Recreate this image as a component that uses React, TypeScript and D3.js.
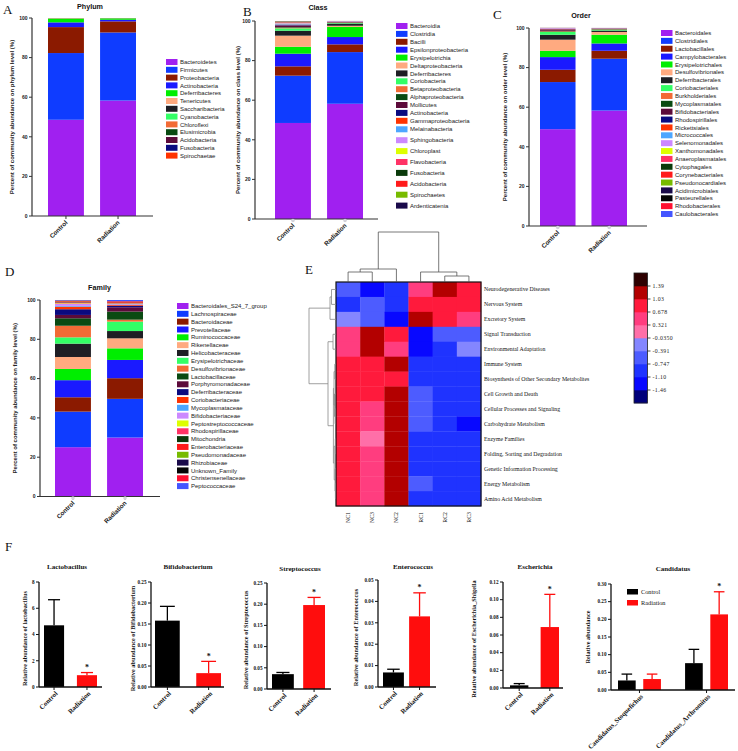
import React from "react";
import * as d3 from "d3";

const SANS = "'Liberation Sans', Arial, Helvetica, sans-serif";
const SERIF = "'Liberation Serif', 'Times New Roman', Times, serif";

const groups = ["Control", "Radiation"];

const palette = [
  "#a020f0", "#0f3cff", "#8b1a00", "#1a1aff", "#00ee00", "#ffaa80",
  "#1e1e24", "#33ff66", "#f26b35", "#0a4a12", "#5c0a3a", "#0a0a80",
  "#ff3300", "#4da6ff", "#cc88ff", "#ddff00", "#ff3366", "#0a3a0a",
  "#ff1a1a", "#77bb00", "#1a0a4a", "#050505", "#ff1030", "#4455ff",
];
const phylumPalette = [
  "#a020f0", "#0f3cff", "#8b1a00", "#1a1aff", "#00ee00", "#ffaa80",
  "#1e1e24", "#33ff66", "#f26b35", "#0a4a12", "#5c0a3a", "#0a0a80", "#ff3300",
];

// ---- Phylum ----
const phylumNames = ["Bacteroidetes", "Firmicutes", "Proteobacteria", "Actinobacteria", "Deferribacteres", "Tenericutes", "Saccharibacteria", "Cyanobacteria", "Chloroflexi", "Elusimicrobia", "Acidobacteria", "Fusobacteria", "Spirochaetae"];
const phylumControl = [48.6, 33.7, 13.1, 2.4, 1.9, 0.2, 0.05, 0.02, 0.01, 0.01, 0.005, 0.005, 0.0];
const phylumRadiation = [58.3, 34.4, 5.6, 0.8, 0.7, 0.1, 0.05, 0.02, 0.01, 0.01, 0.005, 0.005, 0.0];

// ---- Class ----
const classNames = ["Bacteroidia", "Clostridia", "Bacilli", "Epsilonproteobacteria", "Erysipelotrichia", "Deltaproteobacteria", "Deferribacteres", "Coriobacteria", "Betaproteobacteria", "Alphaproteobacteria", "Mollicutes", "Actinobacteria", "Gammaproteobacteria", "Melainabacteria", "Sphingobacteria", "Chloroplast", "Flavobacteria", "Fusobacteria", "Acidobacteria", "Spirochaetes", "Ardenticatenia"];
const classControl = [48.5, 23.9, 4.7, 6.4, 3.5, 5.6, 2.5, 1.2, 0.3, 0.3, 0.7, 0.3, 0.3, 0.3, 0.4, 0.2, 0.3, 0.2, 0.1, 0.1, 0.1];
const classRadiation = [58.2, 26.1, 3.9, 3.7, 5.1, 0.6, 1.1, 0.3, 0.2, 0.1, 0.2, 0.1, 0.1, 0.05, 0.2, 0.02, 0.02, 0.01, 0.01, 0.01, 0.01];

// ---- Order ----
const orderNames = ["Bacteroidales", "Clostridiales", "Lactobacillales", "Campylobacterales", "Erysipelotrichales", "Desulfovibrionales", "Deferribacterales", "Coriobacteriales", "Burkholderiales", "Mycoplasmatales", "Bifidobacteriales", "Rhodospirillales", "Rickettsiales", "Micrococcales", "Selenomonadales", "Xanthomonadales", "Anaeroplasmatales", "Cytophagales", "Corynebacteriales", "Pseudonocardiales", "Acidimicrobiales", "Pasteurellales", "Rhodobacterales", "Caulobacterales"];
const orderControl = [48.9, 23.8, 6.2, 6.4, 3.2, 5.6, 2.5, 1.4, 0.3, 0.3, 0.4, 0.3, 0.2, 0.1, 0.3, 0.02, 0.05, 0.02, 0.02, 0.02, 0.02, 0.02, 0.02, 0.02];
const orderRadiation = [58.3, 26.2, 4.0, 3.7, 4.4, 1.4, 0.7, 0.4, 0.2, 0.2, 0.1, 0.1, 0.1, 0.05, 0.1, 0.01, 0.01, 0.01, 0.01, 0.01, 0.01, 0.01, 0.01, 0.01];

// ---- Family ----
const familyNames = ["Bacteroidales_S24_7_group", "Lachnospiraceae", "Bacteroidaceae", "Prevotellaceae", "Ruminococcaceae", "Rikenellaceae", "Helicobacteraceae", "Erysipelotrichaceae", "Desulfovibrionaceae", "Lactobacillaceae", "Porphyromonadaceae", "Deferribacteraceae", "Coriobacteriaceae", "Mycoplasmataceae", "Bifidobacteriaceae", "Peptostreptococcaceae", "Rhodospirillaceae", "Mitochondria", "Enterobacteriaceae", "Pseudomonadaceae", "Rhizobiaceae", "Unknown_Family", "Christensenellaceae", "Peptococcaceae"];
const familyControl = [25.1, 18.1, 7.3, 8.7, 5.7, 6.1, 6.8, 3.2, 5.9, 3.8, 1.7, 2.9, 1.3, 0.4, 1.0, 0.3, 0.5, 0.2, 0.4, 0.1, 0.1, 0.1, 0.1, 0.2];
const familyRadiation = [30.0, 19.7, 10.5, 9.3, 5.9, 5.1, 3.7, 4.8, 1.0, 4.1, 2.2, 0.8, 0.5, 0.2, 0.3, 0.1, 0.1, 0.1, 0.5, 0.05, 0.1, 0.1, 0.3, 0.55];

// ---- Heatmap ----
const heatRows = ["Neurodegenerative Diseases", "Nervous System", "Excretory System", "Signal Transduction", "Environmental Adaptation", "Immune System", "Biosynthesis of Other Secondary Metabolites", "Cell Growth and Death", "Cellular Processes and Signaling", "Carbohydrate Metabolism", "Enzyme Families", "Folding, Sorting and Degradation", "Genetic Information Processing", "Energy Metabolism", "Amino Acid Metabolism"];
const heatCols = ["NC1", "NC3", "NC2", "RC1", "RC2", "RC3"];
const heatValues = [
  [-0.55, -1.3, -0.9, 0.5, 1.2, 0.85],
  [-0.9, -0.55, -0.9, 0.85, 0.85, 0.85],
  [-0.2, -0.55, -1.3, 1.2, 0.85, 0.5],
  [0.5, 1.2, 0.85, -1.3, -0.55, -0.55],
  [0.5, 1.2, 0.5, -1.3, -0.9, -0.2],
  [0.85, 0.85, 1.2, -0.9, -0.9, -0.9],
  [0.85, 0.85, 0.85, -0.9, -0.9, -0.9],
  [0.85, 0.85, 1.2, -0.55, -0.9, -0.9],
  [0.85, 0.5, 1.2, -0.55, -0.9, -0.9],
  [0.85, 0.5, 1.2, -0.55, -0.9, -1.3],
  [0.85, 0.15, 1.2, -0.9, -0.9, -0.9],
  [0.85, 0.5, 1.2, -0.9, -0.9, -0.9],
  [0.85, 0.5, 1.2, -0.9, -0.9, -0.9],
  [0.85, 0.5, 1.2, -0.55, -0.9, -0.9],
  [0.85, 0.5, 1.2, -0.9, -0.9, -0.9],
];
const heatBreaks = [-1.46, -1.10, -0.747, -0.391, -0.0350, 0.321, 0.678, 1.03, 1.39];
const heatBreakLabels = ["-1.46", "-1.10", "-0.747", "-0.391", "-0.0350", "0.321", "0.678", "1.03", "1.39"];
const heatColors = ["#00007a", "#0808ff", "#1f33ff", "#4d5cff", "#8486ff", "#ff6fa8", "#ff3d7f", "#ff1a3c", "#b30000", "#2e0000"];

type TNode = { h?: number; leaf?: number; children?: TNode[] };
const colTree: TNode = {
  h: 50, children: [
    { h: 13, children: [{ h: 10, children: [{ leaf: 0 }, { leaf: 1 }] }, { leaf: 2 }] },
    { h: 10, children: [{ leaf: 3 }, { h: 6, children: [{ leaf: 4 }, { leaf: 5 }] }] },
  ],
};
const rowTree: TNode = {
  h: 27, children: [
    { h: 6, children: [{ h: 4.5, children: [{ leaf: 0 }, { leaf: 1 }] }, { leaf: 2 }] },
    {
      h: 8, children: [
        { h: 3, children: [{ leaf: 3 }, { leaf: 4 }] },
        {
          h: 2.6, children: [
            { h: 2.0, children: [{ h: 1.2, children: [{ leaf: 5 }, { leaf: 6 }] }, { h: 1.5, children: [{ leaf: 7 }, { h: 0.9, children: [{ leaf: 8 }, { leaf: 9 }] }] }] },
            { h: 1.8, children: [{ h: 0.7, children: [{ leaf: 10 }, { leaf: 11 }] }, { h: 1.0, children: [{ leaf: 12 }, { h: 0.6, children: [{ leaf: 13 }, { leaf: 14 }] }] }] },
          ],
        },
      ],
    },
  ],
};

// ---- Panel F ----
const lactoMeans = [4.7, 0.9];
const lactoErrs = [1.95, 0.2];
const bifidoMeans = [0.158, 0.033];
const bifidoErrs = [0.034, 0.028];
const streptoMeans = [0.035, 0.198];
const streptoErrs = [0.004, 0.018];
const enteroMeans = [0.0068, 0.033];
const enteroErrs = [0.0015, 0.011];
const escheMeans = [0.003, 0.069];
const escheErrs = [0.002, 0.037];
const candCategories = ["Candidatus_Stoquefichus", "Candidatus_Arthromitus"];
const candControl = [0.027, 0.076];
const candControlErr = [0.018, 0.039];
const candRadiation = [0.031, 0.214];
const candRadiationErr = [0.014, 0.064];

const barColors = ["#000000", "#ff0d0d"];

// ================= Components =================

function StackedPanel({ names, colors, control, radiation, title, ylabel, L }: any) {
  const y = d3.scaleLinear().domain([0, 100]).range([L.yBottom, L.yTop]);
  const x = d3.scaleBand().domain(groups).range([L.x0, L.x1]).paddingInner(0.31);
  const table = groups.map((g, gi) => {
    const row: any = { group: g };
    names.forEach((n: string, i: number) => (row[n] = (gi === 0 ? control : radiation)[i]));
    return row;
  });
  const series = d3.stack().keys(names)(table);
  const ticks = y.ticks(5);
  const midY = (L.yTop + L.yBottom) / 2;
  return (
    <g fontFamily={SANS}>
      <text x={L.titleX} y={L.titleY} textAnchor="middle" fontSize={7.2} fontWeight="bold" fill="#111">{title}</text>
      {series.map((s, si) =>
        s.map((d, gi) => (
          <rect key={si + "-" + gi} x={x(groups[gi])} width={x.bandwidth()} y={y(d[1])}
            height={Math.max(0, y(d[0]) - y(d[1]))} fill={colors[si]} />
        ))
      )}
      <line x1={L.axisX} x2={L.axisX} y1={L.yTop} y2={L.yBottom} stroke="#333" strokeWidth={1.2} />
      <line x1={L.axisX} x2={L.axisEnd} y1={L.yBottom} y2={L.yBottom} stroke="#333" strokeWidth={1.2} />
      {ticks.map((t) => (
        <g key={t}>
          <line x1={L.axisX - 3} x2={L.axisX} y1={y(t)} y2={y(t)} stroke="#333" strokeWidth={1} />
          <text x={L.axisX - 4.5} y={y(t) + 1.8} textAnchor="end" fontSize={5} fontWeight="bold" fill="#222">{t}</text>
        </g>
      ))}
      {groups.map((g) => {
        const cx = (x(g) as number) + x.bandwidth() / 2;
        return (
          <g key={g}>
            <line x1={cx} x2={cx} y1={L.yBottom} y2={L.yBottom + 3} stroke="#333" strokeWidth={1} />
            {L.dots && <circle cx={cx} cy={L.yBottom + 1.5} r={1.8} fill="#d4d4dc" />}
            <text transform={`translate(${cx + 2},${L.yBottom + 7}) rotate(-45)`} textAnchor="end" fontSize={6.3} fontWeight="bold" fill="#222">{g}</text>
          </g>
        );
      })}
      <text transform={`translate(${L.ylabelX},${midY}) rotate(-90)`} textAnchor="middle" fontSize={6} fontWeight="bold" fill="#222">{ylabel}</text>
      {names.map((n: string, i: number) => (
        <g key={n}>
          <rect x={L.legendX} y={L.legendY(i) - 3} width={11.5} height={6} fill={colors[i]} />
          <text x={L.legendX + 14} y={L.legendY(i) + 2.1} fontSize={6} fill="#1a1a1a">{n}</text>
        </g>
      ))}
    </g>
  );
}

function treeSegments(root: TNode) {
  const segs: { p1: number; h1: number; p2: number; h2: number }[] = [];
  function rec(n: TNode): { p: number; h: number } {
    if (n.leaf !== undefined) return { p: n.leaf, h: 0 };
    const cs = n.children!.map(rec);
    const ps = cs.map((c) => c.p);
    const p = (ps[0] + ps[ps.length - 1]) / 2;
    segs.push({ p1: ps[0], h1: n.h!, p2: ps[ps.length - 1], h2: n.h! });
    cs.forEach((c) => segs.push({ p1: c.p, h1: c.h, p2: c.p, h2: n.h! }));
    return { p, h: n.h! };
  }
  rec(root);
  return segs;
}

function Heatmap() {
  const x0 = 336, x1 = 481, y0 = 282, y1 = 506;
  const x = d3.scaleBand().domain(heatCols).range([x0, x1]);
  const y = d3.scaleBand().domain(heatRows).range([y0, y1]);
  const color = d3.scaleThreshold<number, string>().domain(heatBreaks).range(heatColors);
  const colPos = d3.scaleLinear().domain([0, heatCols.length - 1]).range([x0 + x.bandwidth() / 2, x1 - x.bandwidth() / 2]);
  const rowPos = d3.scaleLinear().domain([0, heatRows.length - 1]).range([y0 + y.bandwidth() / 2, y1 - y.bandwidth() / 2]);
  const colH = d3.scaleLinear().domain([0, 50]).range([y0, 232]);
  const rowH = d3.scaleLinear().domain([0, 27]).range([x0, 309]);
  const colSegs = treeSegments(colTree);
  const rowSegs = treeSegments(rowTree);
  const keyX = 634, keyW = 13.5, keyTop = 273, keyBottom = 403;
  const keyScale = d3.scaleBand().domain(d3.range(heatColors.length).map(String)).range([keyBottom, keyTop]);
  return (
    <g fontFamily={SERIF}>
      {heatValues.map((row, ri) =>
        row.map((v, ci) => (
          <rect key={ri + "-" + ci} x={x(heatCols[ci])} y={y(heatRows[ri])} width={x.bandwidth() + 0.3} height={y.bandwidth() + 0.3} fill={color(v)} />
        ))
      )}
      <rect x={x0} y={y0} width={x1 - x0} height={y1 - y0} fill="none" stroke="#111" strokeWidth={1.2} />
      {colSegs.map((s, i) => (
        <line key={i} x1={colPos(s.p1)} x2={colPos(s.p2)} y1={colH(s.h1)} y2={colH(s.h2)} stroke="#555" strokeWidth={0.8} />
      ))}
      {rowSegs.map((s, i) => (
        <line key={i} y1={rowPos(s.p1)} y2={rowPos(s.p2)} x1={rowH(s.h1)} x2={rowH(s.h2)} stroke="#888" strokeWidth={0.8} />
      ))}
      {heatRows.map((r) => (
        <text key={r} x={x1 + 3} y={(y(r) as number) + y.bandwidth() / 2 + 2} fontSize={5.8} fill="#111">{r}</text>
      ))}
      {heatCols.map((c) => (
        <text key={c} transform={`translate(${(x(c) as number) + x.bandwidth() / 2 + 2},${y1 + 6}) rotate(-90)`} textAnchor="end" fontSize={5.8} fill="#111">{c}</text>
      ))}
      {heatColors.map((c, i) => (
        <rect key={c} x={keyX} y={keyScale(String(i))} width={keyW} height={keyScale.bandwidth() + 0.3} fill={c} />
      ))}
      <rect x={keyX} y={keyTop} width={keyW} height={keyBottom - keyTop} fill="none" stroke="#222" strokeWidth={0.8} />
      {heatBreakLabels.map((lab, i) => {
        const yy = keyScale(String(i)) as number;
        return (
          <g key={lab}>
            <line x1={keyX + keyW} x2={keyX + keyW + 3} y1={yy} y2={yy} stroke="#222" strokeWidth={0.8} />
            <text x={keyX + keyW + 5} y={yy + 2} fontSize={5.8} fill="#222" letterSpacing={0.4}>{lab}</text>
          </g>
        );
      })}
    </g>
  );
}

function SimpleBar({ L, title, ylabel, means, errs, nticks, fmt, star }: any) {
  const y = d3.scaleLinear().domain([0, L.max]).range([L.yBottom, L.yTop]);
  const x = d3.scaleBand().domain(groups).range([L.x0, L.x1]).paddingInner(L.pad);
  const ticks = y.ticks(nticks);
  const bw = x.bandwidth();
  return (
    <g fontFamily={SERIF}>
      <text x={L.titleX} y={L.titleY} textAnchor="middle" fontSize={7} fontWeight="bold" fill="#111">{title}</text>
      {groups.map((g, i) => {
        const cx = (x(g) as number) + bw / 2;
        const top = y(means[i] + errs[i]);
        return (
          <g key={g}>
            <line x1={cx} x2={cx} y1={y(means[i])} y2={top} stroke={barColors[i]} strokeWidth={1.3} />
            <line x1={cx - bw * 0.3} x2={cx + bw * 0.3} y1={top} y2={top} stroke={barColors[i]} strokeWidth={1.3} />
            <rect x={x(g)} width={bw} y={y(means[i])} height={L.yBottom - y(means[i])} fill={barColors[i]} />
            {star && i === 1 && <text x={cx} y={top - 2.5} textAnchor="middle" fontSize={8} fontWeight="bold" fill="#111">*</text>}
            <line x1={cx} x2={cx} y1={L.yBottom} y2={L.yBottom + 3} stroke="#111" strokeWidth={1} />
            <text transform={`translate(${cx + 4},${L.yBottom + 7}) rotate(-45)`} textAnchor="end" fontSize={6.8} fontWeight="bold" fill="#111">{g}</text>
          </g>
        );
      })}
      <line x1={L.axisX} x2={L.axisX} y1={L.yTop} y2={L.yBottom} stroke="#111" strokeWidth={1.3} />
      <line x1={L.axisX} x2={L.axisEnd} y1={L.yBottom} y2={L.yBottom} stroke="#111" strokeWidth={1.3} />
      {ticks.map((t) => (
        <g key={t}>
          <line x1={L.axisX - 3} x2={L.axisX} y1={y(t)} y2={y(t)} stroke="#111" strokeWidth={1} />
          <text x={L.axisX - 4.5} y={y(t) + 1.8} textAnchor="end" fontSize={5.2} fontWeight="bold" fill="#111">{fmt(t)}</text>
        </g>
      ))}
      <text transform={`translate(${L.ylabelX},${(L.yTop + L.yBottom) / 2 + 4}) rotate(-90)`} textAnchor="middle" fontSize={6.3} fontWeight="bold" fill="#111">{ylabel}</text>
    </g>
  );
}

function GroupedBar({ L }: any) {
  const y = d3.scaleLinear().domain([0, L.max]).range([L.yBottom, L.yTop]);
  const xo = d3.scaleBand().domain(candCategories).range([L.x0, L.x1]).paddingInner(0.36);
  const xi = d3.scaleBand().domain(groups).range([0, xo.bandwidth()]).paddingInner(0.3);
  const bw = xi.bandwidth();
  const ticks = y.ticks(6);
  const fmt = d3.format(".2f");
  const seriesMeans = [candControl, candRadiation];
  const seriesErrs = [candControlErr, candRadiationErr];
  return (
    <g fontFamily={SERIF}>
      <text x={L.titleX} y={L.titleY} textAnchor="middle" fontSize={7} fontWeight="bold" fill="#111">Candidatus</text>
      {candCategories.map((c, ci) => {
        const gx = xo(c) as number;
        const gc = gx + xo.bandwidth() / 2;
        return (
          <g key={c}>
            {groups.map((g, si) => {
              const bx = gx + (xi(g) as number);
              const cx = bx + bw / 2;
              const m = seriesMeans[si][ci];
              const top = y(m + seriesErrs[si][ci]);
              return (
                <g key={g}>
                  <line x1={cx} x2={cx} y1={y(m)} y2={top} stroke={barColors[si]} strokeWidth={1.3} />
                  <line x1={cx - bw * 0.3} x2={cx + bw * 0.3} y1={top} y2={top} stroke={barColors[si]} strokeWidth={1.3} />
                  <rect x={bx} width={bw} y={y(m)} height={L.yBottom - y(m)} fill={barColors[si]} />
                  {ci === 1 && si === 1 && <text x={cx} y={top - 2.5} textAnchor="middle" fontSize={8} fontWeight="bold" fill="#111">*</text>}
                </g>
              );
            })}
            <line x1={gc} x2={gc} y1={L.yBottom} y2={L.yBottom + 3} stroke="#111" strokeWidth={1} />
            <text transform={`translate(${gc + 4},${L.yBottom + 7}) rotate(-45)`} textAnchor="end" fontSize={6.8} fontWeight="bold" fill="#111">{c}</text>
          </g>
        );
      })}
      <line x1={L.axisX} x2={L.axisX} y1={L.yTop} y2={L.yBottom} stroke="#111" strokeWidth={1.3} />
      <line x1={L.axisX} x2={L.axisEnd} y1={L.yBottom} y2={L.yBottom} stroke="#111" strokeWidth={1.3} />
      {ticks.map((t) => (
        <g key={t}>
          <line x1={L.axisX - 3} x2={L.axisX} y1={y(t)} y2={y(t)} stroke="#111" strokeWidth={1} />
          <text x={L.axisX - 4.5} y={y(t) + 1.8} textAnchor="end" fontSize={5.2} fontWeight="bold" fill="#111">{fmt(t)}</text>
        </g>
      ))}
      <text transform={`translate(${L.ylabelX},${(L.yTop + L.yBottom) / 2}) rotate(-90)`} textAnchor="middle" fontSize={6.3} fontWeight="bold" fill="#111">Relative abundance</text>
      {groups.map((g, si) => (
        <g key={g}>
          <rect x={627} y={589 + si * 11} width={11} height={5.5} fill={barColors[si]} />
          <text x={641} y={594 + si * 11} fontSize={6.3} fill="#111">{g}</text>
        </g>
      ))}
    </g>
  );
}

export default function App() {
  const LA = { axisX: 32, yTop: 18, yBottom: 216, x0: 48, x1: 136, axisEnd: 153, titleX: 90, titleY: 9, ylabelX: 14, legendX: 166, legendY: (i: number) => 62 + 7.8 * i, dots: false };
  const LB = { axisX: 255, yTop: 21, yBottom: 219, x0: 275, x1: 363, axisEnd: 378, titleX: 318, titleY: 10, ylabelX: 240, legendX: 396, legendY: (i: number) => (i <= 12 ? 26 + 7.9 * i : 129.3 + (i - 13) * 10.9), dots: true };
  const LC = { axisX: 529, yTop: 28, yBottom: 226, x0: 540, x1: 627, axisEnd: 647, titleX: 581, titleY: 17.5, ylabelX: 507, legendX: 661, legendY: (i: number) => 33 + 7.87 * i, dots: true };
  const LD = { axisX: 40, yTop: 300, yBottom: 496.5, x0: 55, x1: 143, axisEnd: 160, titleX: 99.5, titleY: 290, ylabelX: 17, legendX: 177, legendY: (i: number) => 306 + 7.83 * i, dots: true };

  const f2 = d3.format(".2f");
  const fd = d3.format("d");
  const F1 = { axisX: 39, yTop: 582, yBottom: 687, x0: 44, x1: 97, pad: 0.39, axisEnd: 102, titleX: 67, titleY: 569, ylabelX: 27, max: 8 };
  const F2 = { axisX: 151, yTop: 582, yBottom: 687, x0: 155, x1: 221, pad: 0.4, axisEnd: 224, titleX: 188, titleY: 569, ylabelX: 134.5, max: 0.25 };
  const F3 = { axisX: 267, yTop: 583, yBottom: 689, x0: 272, x1: 325, pad: 0.3, axisEnd: 331, titleX: 300, titleY: 571, ylabelX: 248, max: 0.25 };
  const F4 = { axisX: 378, yTop: 580, yBottom: 687, x0: 383, x1: 430, pad: 0.2, axisEnd: 436, titleX: 413, titleY: 569, ylabelX: 358, max: 0.05 };
  const F5 = { axisX: 503, yTop: 582, yBottom: 688, x0: 510, x1: 559, pad: 0.4, axisEnd: 563, titleX: 535, titleY: 569, ylabelX: 476, max: 0.12 };
  const F6 = { axisX: 611, yTop: 584, yBottom: 690, x0: 618, x1: 728, axisEnd: 735, titleX: 673, titleY: 571, ylabelX: 590, max: 0.3 };

  return (
    <svg width={738} height={751} style={{ position: "absolute", left: 0, top: 0 }}>
      <rect width={738} height={751} fill="#ffffff" />
      <g fontFamily={SERIF} fontSize={13} fill="#111">
        <text x={3} y={14}>A</text>
        <text x={243} y={16}>B</text>
        <text x={493} y={19}>C</text>
        <text x={5} y={276}>D</text>
        <text x={305} y={274}>E</text>
        <text x={5} y={551}>F</text>
      </g>
      <StackedPanel names={phylumNames} colors={phylumPalette} control={phylumControl} radiation={phylumRadiation} title="Phylum" ylabel="Percent of community abundance on phylum level  (%)" L={LA} />
      <StackedPanel names={classNames} colors={palette} control={classControl} radiation={classRadiation} title="Class" ylabel="Percent of community abundance on class level (%)" L={LB} />
      <StackedPanel names={orderNames} colors={palette} control={orderControl} radiation={orderRadiation} title="Order" ylabel="Percent of community abundance on order level  (%)" L={LC} />
      <StackedPanel names={familyNames} colors={palette} control={familyControl} radiation={familyRadiation} title="Family" ylabel="Percent of community abundance on family level (%)" L={LD} />
      <Heatmap />
      <SimpleBar L={F1} title="Lactobacillus" ylabel="Relative abundance of lactobacillus" means={lactoMeans} errs={lactoErrs} nticks={4} fmt={fd} star />
      <SimpleBar L={F2} title="Bifidobacterium" ylabel="Relative abundance of Bifidobacterium" means={bifidoMeans} errs={bifidoErrs} nticks={5} fmt={f2} star />
      <SimpleBar L={F3} title="Streptococcus" ylabel="Relative abundance of Streptococcus" means={streptoMeans} errs={streptoErrs} nticks={5} fmt={f2} star />
      <SimpleBar L={F4} title="Enterococcus" ylabel="Relative abundance of Enterococcus" means={enteroMeans} errs={enteroErrs} nticks={5} fmt={f2} star />
      <SimpleBar L={F5} title="Escherichia" ylabel="Relative abundance of Escherichia_Shigella" means={escheMeans} errs={escheErrs} nticks={6} fmt={f2} star />
      <GroupedBar L={F6} />
    </svg>
  );
}
